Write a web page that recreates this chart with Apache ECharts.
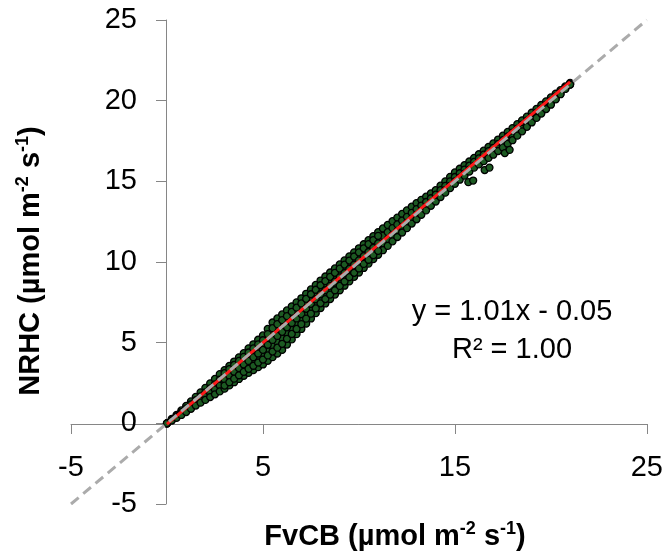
<!DOCTYPE html>
<html><head><meta charset="utf-8">
<script src="https://cdn.jsdelivr.net/npm/echarts@6/dist/echarts.min.js"></script>
<style>html,body{margin:0;padding:0;background:#fff}#c{width:666px;height:556px}</style>
</head><body><div id="c"></div>
<script>
// Scatter band: x positions and four rows of y values
const xs = [0,0.25,0.5,0.75,1,1.25,1.5,1.75,2,2.25,2.5,2.75,3,3.25,3.5,3.75,4,4.25,4.5,4.75,5,5.25,5.5,5.75,6,6.25,6.5,6.75,7,7.25,7.5,7.75,8,8.25,8.5,8.75,9,9.25,9.5,9.75,10,10.25,10.5,10.75,11,11.25,11.5,11.75,12,12.25,12.5,12.75,13,13.25,13.5,13.75,14,14.25,14.5,14.75,15,15.25,15.5,15.75,16,16.25,16.5,16.75,17,17.25,17.5,17.75,18,18.25,18.5,18.75,19,19.25,19.5,19.75,20,20.25,20.5,20.75,21];
const rowA = [0,0.28,0.52,0.80,1.08,1.36,1.64,1.92,2.2,2.48,2.75,3.05,3.3,3.56,3.83,4.09,4.35,4.65,4.9,5.18,5.45,5.85,6.25,6.5,6.75,7.0,7.25,7.5,7.75,8.03,8.3,8.58,8.85,9.1,9.35,9.6,9.85,10.1,10.35,10.6,10.85,11.1,11.35,11.6,11.85,12.08,12.3,12.53,12.75,12.98,13.2,13.43,13.65,13.85,14.05,14.25,14.45,14.73,15.0,15.28,15.55,15.78,16.0,16.23,16.45,16.68,16.9,17.13,17.35,17.59,17.83,18.06,18.3,18.54,18.78,19.01,19.25,19.49,19.73,19.96,20.2,20.43,20.65,20.88,21.1];
const rowB = [0,0.24,0.45,0.69,0.93,1.18,1.43,1.67,1.92,2.17,2.42,2.7,2.92,3.16,3.4,3.65,3.88,4.13,4.37,4.62,4.85,5.2,5.55,5.8,6.05,6.3,6.57,6.83,7.1,7.4,7.7,7.98,8.27,8.53,8.8,9.05,9.32,9.57,9.83,10.08,10.35,10.6,10.87,11.12,11.38,11.62,11.85,12.1,12.33,12.57,12.8,13.05,13.28,13.5,13.72,13.95,14.17,14.45,14.72,15.0,15.27,15.5,15.73,15.97,16.2,16.42,16.65,16.87,17.08,17.32,17.55,17.78,18.02,18.27,18.52,18.76,19.0,19.25,19.5,19.75,20.0,20.27,20.53,20.8,21.05];
const rowC = [0,0.2,0.39,0.59,0.8,1.0,1.22,1.43,1.65,1.87,2.1,2.34,2.53,2.75,2.98,3.2,3.42,3.62,3.83,4.05,4.25,4.54,4.8,5.05,5.3,5.6,5.88,6.17,6.45,6.8,7.1,7.4,7.73,7.97,8.25,8.52,8.78,9.05,9.32,9.58,9.85,10.12,10.38,10.65,10.92,11.17,11.42,11.68,11.92,12.17,12.42,12.67,12.92,13.17,13.4,13.65,13.9,14.17,14.45,14.72,15.0,15.23,15.47,15.72,15.95,16.17,16.4,16.62,16.82,17.05,17.28,17.5,17.73,18.0,18.25,18.5,18.75,19.02,19.28,19.55,19.82,20.12,20.42,20.73,21.0];
const rowD = [0,0.17,0.34,0.52,0.7,0.9,1.1,1.28,1.45,1.63,1.8,1.98,2.15,2.35,2.55,2.75,2.95,3.13,3.3,3.48,3.65,3.88,4.1,4.33,4.55,4.88,5.2,5.53,5.85,6.18,6.5,6.83,7.15,7.43,7.7,7.98,8.25,8.53,8.8,9.08,9.35,9.63,9.9,10.18,10.45,10.73,11.0,11.28,11.55,11.83,12.1,12.38,12.65,12.93,13.2,13.48,13.75,14.03,14.3,14.58,14.85,15.1,15.35,15.6,15.85,16.05,16.25,16.45,16.65,16.88,17.1,17.33,17.55,17.83,18.1,18.38,18.65,18.93,19.2,19.48,19.75,20.08,20.4,20.73,21.0];
// extra rows in the wide part of the band (x = 3 .. 11)
const xsW = [3,3.25,3.5,3.75,4,4.25,4.5,4.75,5,5.25,5.5,5.75,6,6.25,6.5,6.75,7,7.25,7.5,7.75,8,8.25,8.5,8.75,9,9.25,9.5,9.75,10,10.25,10.5,10.75,11];
const rowE = [3.11,3.36,3.62,3.87,4.12,4.39,4.64,4.9,5.15,5.53,5.9,6.15,6.4,6.65,6.91,7.17,7.43,7.72,8.0,8.28,8.56,8.82,9.08,9.33,9.59,9.84,10.09,10.34,10.6,10.85,11.11,11.36,11.62];
const rowG = [2.72,2.95,3.19,3.42,3.65,3.87,4.1,4.33,4.55,4.87,5.17,5.42,5.67,5.95,6.22,6.5,6.77,7.1,7.4,7.69,8.0,8.25,8.52,8.78,9.05,9.31,9.57,9.83,10.1,10.36,10.62,10.88,11.15];
const rowF = [2.34,2.55,2.77,2.98,3.19,3.38,3.57,3.77,3.95,4.21,4.45,4.69,4.93,5.24,5.54,5.85,6.15,6.49,6.8,7.12,7.44,7.7,7.98,8.25,8.52,8.79,9.06,9.33,9.6,9.88,10.14,10.42,10.69];
// isolated points below the band
const outX = [15.7,15.95,16.55,16.8,17.6,17.85];
const outY = [14.95,15.05,15.7,15.85,16.75,16.95];
// regression line and 1:1 line
const fitX = [0,21];
const fitY = [-0.05,21.16];
const oneX = [-5,25];
const oneY = [-5,25];
// ticks
const xTickVals = [-5,5,15,25];
const yTickVals = [-5,0,5,10,15,20,25];
const xTitle = '{b|FvCB (µmol m}{s|-2}{b| s}{s|-1}{b|)}';
const yTitle = '{b|NRHC (µmol m}{s|-2}{b| s}{s|-1}{b|)}';
const eq1 = 'y = 1.01x - 0.05';
const eq2 = 'R² = 1.00';

const FONT = '"Liberation Sans", Arial, sans-serif';
const pts = [];
for (let i = 0; i < xs.length; i++) {
  pts.push([xs[i], rowA[i]], [xs[i], rowB[i]], [xs[i], rowC[i]], [xs[i], rowD[i]]);
}
for (let i = 0; i < xsW.length; i++) {
  pts.push([xsW[i], rowE[i]], [xsW[i], rowG[i]], [xsW[i], rowF[i]]);
}
for (let i = 0; i < outX.length; i++) pts.push([outX[i], outY[i]]);

const axisGray = '#868686';
const richT = {
  b: {fontSize: 29, fontWeight: 'bold', fontFamily: FONT, fill: '#000', lineHeight: 34},
  s: {fontSize: 18, fontWeight: 'bold', fontFamily: FONT, fill: '#000', lineHeight: 20, verticalAlign: 'top'}
};

const chart = echarts.init(document.getElementById('c'), null, {renderer: 'canvas'});
chart.setOption({
  animation: false,
  backgroundColor: '#fff',
  grid: {left: 71, right: 18, top: 20, bottom: 52, containLabel: false},
  xAxis: {
    type: 'value', min: -5, max: 25, interval: 5,
    position: 'bottom', offset: -80,
    splitLine: {show: false},
    axisLine: {onZero: false, lineStyle: {color: axisGray, width: 1}},
    axisTick: {customValues: xTickVals, length: 10, lineStyle: {color: axisGray}},
    axisLabel: {customValues: xTickVals, margin: 29, fontSize: 29, color: '#000', fontFamily: FONT}
  },
  yAxis: {
    type: 'value', min: -5, max: 25, interval: 5,
    position: 'left', offset: -95,
    splitLine: {show: false},
    axisLine: {show: true, onZero: false, lineStyle: {color: axisGray, width: 1}},
    axisTick: {show: true, customValues: yTickVals, length: 10, lineStyle: {color: axisGray}},
    axisLabel: {customValues: yTickVals, margin: 29, fontSize: 29, color: '#000', fontFamily: FONT}
  },
  series: [
    {type: 'scatter', data: pts, symbolSize: 7, silent: true, z: 2,
     itemStyle: {color: '#1c5a22', borderColor: '#000', borderWidth: 1.3, opacity: 1}},
    {type: 'line', data: fitX.map((x, i) => [x, fitY[i]]), symbol: 'none', silent: true, z: 3,
     lineStyle: {color: '#ff1a1a', width: 3}},
    {type: 'line', data: oneX.map((x, i) => [x, oneY[i]]), symbol: 'none', silent: true, z: 4,
     lineStyle: {color: '#ababab', width: 3, type: [10, 6]}}
  ],
  graphic: [
    {type: 'text', x: 512, y: 312, silent: true,
     style: {text: eq1, fontSize: 29, fontFamily: FONT, fill: '#000', align: 'center', verticalAlign: 'middle'}},
    {type: 'text', x: 512, y: 350, silent: true,
     style: {text: eq2, fontSize: 29, fontFamily: FONT, fill: '#000', align: 'center', verticalAlign: 'middle'}},
    {type: 'text', x: 395, y: 537, silent: true,
     style: {text: xTitle, rich: richT, align: 'center', verticalAlign: 'middle'}},
    {type: 'text', x: 31, y: 261, rotation: Math.PI / 2, silent: true,
     style: {text: yTitle, rich: richT, align: 'center', verticalAlign: 'middle'}}
  ]
});
</script></body></html>
